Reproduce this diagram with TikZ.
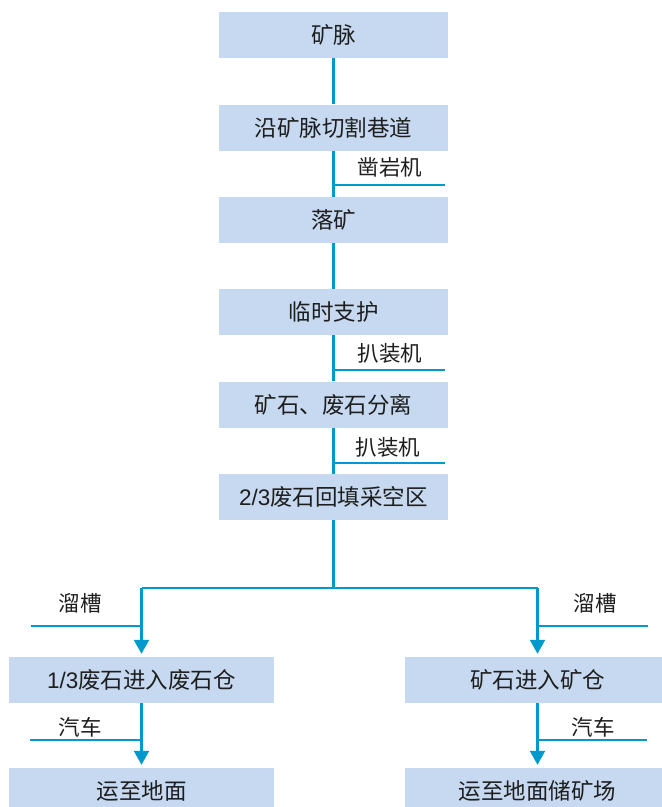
\documentclass[tikz,border=0pt]{standalone}
\usepackage{fontspec}
\setmainfont{Noto Sans CJK SC}
\newfontfamily\latinf{Liberation Sans}
\usetikzlibrary{arrows.meta}
\definecolor{boxc}{RGB}{198,217,240}
\definecolor{linec}{RGB}{0,153,204}
\definecolor{txtc}{RGB}{30,30,30}
\begin{document}
\begin{tikzpicture}[x=1pt,y=-1pt,
  box/.style={fill=boxc, minimum width=229pt, minimum height=46pt, inner sep=0pt, text=txtc, font=\fontsize{22.5}{26}\selectfont},
  wbox/.style={box, minimum width=265pt},
  ln/.style={draw=linec, line width=2.2pt},
  arr/.style={ln, -{Triangle[width=15pt,length=14pt]}},
  lbl/.style={inner sep=0pt, text=txtc, font=\fontsize{21.5}{25}\selectfont}]
\useasboundingbox (0,0) rectangle (662,807);
\node[box] (b1) at (333.5,35) {矿脉};
\node[box] (b2) at (333.5,127.5) {沿矿脉切割巷道};
\node[box] (b3) at (333.5,220) {落矿};
\node[box] (b4) at (333.5,312) {临时支护};
\node[box] (b5) at (333.5,404.5) {矿石、废石分离};
\node[box] (b6) at (333.5,497) {{\latinf 2/3}废石回填采空区};
\node[wbox] (L1) at (141.5,680) {{\latinf 1/3}废石进入废石仓};
\node[wbox] (R1) at (537.5,680) {矿石进入矿仓};
\node[wbox] (L2) at (141.5,791) {运至地面};
\node[wbox] (R2) at (537.5,791) {运至地面储矿场};
% main connectors
\draw[ln] (b1.south) -- (b2.north);
\draw[ln] (b2.south) -- (b3.north);
\draw[ln] (b3.south) -- (b4.north);
\draw[ln] (b4.south) -- (b5.north);
\draw[ln] (b5.south) -- (b6.north);
% side lines
\coordinate (s1) at (445,185);
\coordinate (s2) at (445,370);
\coordinate (s3) at (445,463);
\draw[ln] (b2.south |- s1) -- (s1);
\draw[ln] (b4.south |- s2) -- (s2);
\draw[ln] (b5.south |- s3) -- (s3);
\node[lbl] (t1) at (390,167) {凿岩机};
\node[lbl] (t2) at (390,353) {扒装机};
\node[lbl] (t3) at (388,447) {扒装机};
% branch
\coordinate (br) at (333.5,588);
\draw[ln] (b6.south) -- (br);
\draw[ln] (L1.north |- br) -- (R1.north |- br);
\draw[arr] (L1.north |- br) -- ([yshift=3pt]L1.north);
\draw[arr] (R1.north |- br) -- ([yshift=3pt]R1.north);
\draw[arr] (L1.south) -- ([yshift=3pt]L2.north);
\draw[arr] (R1.south) -- ([yshift=3pt]R2.north);
% side lines lower
\coordinate (c1) at (31,626);
\coordinate (c2) at (30,740);
\coordinate (c3) at (648,626);
\coordinate (c4) at (647,740);
\draw[ln] (c1) -- (c1 -| L1.north);
\draw[ln] (c2) -- (c2 -| L1.north);
\draw[ln] (c3) -- (c3 -| R1.north);
\draw[ln] (c4) -- (c4 -| R1.north);
\node[lbl] (t4) at (80,603) {溜槽};
\node[lbl] (t5) at (80,727) {汽车};
\node[lbl] (t6) at (595,603) {溜槽};
\node[lbl] (t7) at (593,727) {汽车};
\end{tikzpicture}
\end{document}
